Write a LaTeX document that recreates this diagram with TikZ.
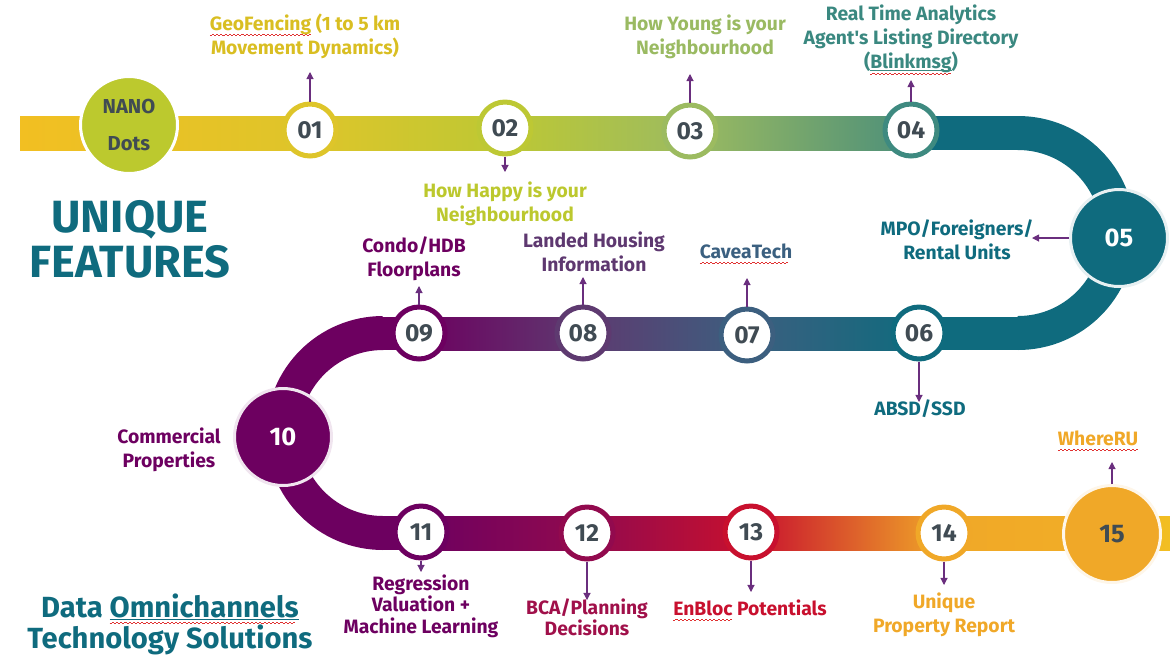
\documentclass[tikz,border=0pt]{standalone}
\usepackage{fontspec}
\setmainfont{Fira Sans}
\newfontfamily\rawfs{Fira Sans}
\usetikzlibrary{arrows.meta}
\definecolor{numgray}{HTML}{404B53}
\definecolor{tealc}{HTML}{0F6B7E}
\definecolor{purp}{HTML}{6D0060}
\definecolor{arrowc}{HTML}{6A2E7E}
\definecolor{wavec}{HTML}{E03030}
\definecolor{r01}{HTML}{DEC52A}
\definecolor{r02}{HTML}{BDC834}
\definecolor{r03}{HTML}{9CBB60}
\definecolor{r04}{HTML}{3E8A80}
\definecolor{r04b}{HTML}{4C8F7A}
\definecolor{r07}{HTML}{3C5F7F}
\definecolor{r08}{HTML}{5E3A70}
\definecolor{r12}{HTML}{920A4E}
\definecolor{r13}{HTML}{C8102E}
\definecolor{r14}{HTML}{F0A828}
\definecolor{gold}{HTML}{F2BF22}
\definecolor{orng}{HTML}{F2AE26}
\definecolor{nanoc}{HTML}{BCC92E}
\definecolor{geoc}{HTML}{D9BE22}
\definecolor{youngc}{HTML}{9ABA62}
\definecolor{realc}{HTML}{3A8880}
\definecolor{happyc}{HTML}{BCC82E}
\definecolor{landc}{HTML}{5E3870}
\definecolor{cavc}{HTML}{3B6080}
\definecolor{bcac}{HTML}{A0104A}
\definecolor{enbc}{HTML}{C8102E}
\definecolor{uniqc}{HTML}{F0A828}
\newsavebox\wvbox
\newcommand\wavefill{\leaders\hbox to 2.4pt{\rule[-3.1pt]{1.2pt}{0.45pt}\rule[-2.5pt]{1.2pt}{0.45pt}}\hfill}
\newcommand\wv[1]{\sbox\wvbox{#1}\rlap{\color{wavec}\hbox to \wd\wvbox{\wavefill}}\usebox\wvbox}
\newcommand\ulne[1]{\sbox\wvbox{#1}\rlap{\rule[-1.8pt]{\wd\wvbox}{0.6pt}}\rlap{\color{wavec}\hbox to \wd\wvbox{\raisebox{-0.8pt}{\hbox to \wd\wvbox{\wavefill}}}}\usebox\wvbox}
\begin{document}
\begin{tikzpicture}[x=0.02cm,y=-0.02cm,
  small/.style={circle,fill=white,draw=#1,line width=0.1cm,minimum size=1.04cm,inner sep=0pt,
    text=numgray,font=\bfseries\fontsize{14}{14}\selectfont},
  big/.style n args={3}{circle,fill=#1,draw=#2,line width=0.06cm,minimum size=1.94cm,inner sep=0pt,
    text=#3,font=\bfseries\fontsize{14.5}{14.5}\selectfont},
  lab/.style={text=#1,align=center,inner sep=0pt,font=\bfseries\fontsize{11}{13.6}\selectfont},
  labt/.style={text=#1,align=center,inner sep=0pt,font=\bfseries\fontsize{11}{12.2}\selectfont},
  title/.style={text=tealc,align=center,inner sep=0pt},
  conn/.style={draw=arrowc,line width=0.6pt,-{Triangle[length=4pt,width=4pt]}},
  band/.style={line width=0.68cm,draw=#1}]
\useasboundingbox (0,0) rectangle (1170,657);
% top band
\fill[left color=gold,right color=r01] (20,116) rectangle (311,150);
\fill[left color=r01,right color=r02] (310,116) rectangle (506,150);
\fill[left color=r02,right color=r03] (505,116) rectangle (691,150);
\fill[left color=r03,right color=r04b] (690,116) rectangle (912,150);
\fill[tealc] (911,116) rectangle (1019,150);
\draw[band=tealc] (1018,133) arc[start angle=-90,end angle=90,radius=100];
% middle band
\fill[tealc] (918,317) rectangle (1019,350);
\fill[left color=r07,right color=tealc] (746,317) rectangle (920,350);
\fill[left color=r08,right color=r07] (582,317) rectangle (748,350);
\fill[left color=purp,right color=r08] (418,317) rectangle (584,350);
\fill[purp] (382,317) rectangle (420,350);
\draw[band=purp] (383,333) arc[start angle=270,end angle=90,radius=100];
% bottom band
\fill[purp] (382,516) rectangle (422,550);
\fill[left color=purp,right color=r12] (421,516) rectangle (588,550);
\fill[left color=r12,right color=r13] (587,516) rectangle (752,550);
\fill[left color=r13,right color=r14] (751,516) rectangle (945,550);
\fill[left color=r14,right color=orng] (944,516) rectangle (1113,550);
\fill[left color=orng,right color=gold] (1112,516) rectangle (1170,550);
% circles
\node[big={nanoc}{white}{numgray},font=\bfseries\fontsize{11.5}{21.5}\selectfont,align=center] (nano) at (129,125) {NANO\\Dots};
\node[small=r01] (c01) at (310,130) {01};
\node[small=r02] (c02) at (505,128) {02};
\node[small=r03] (c03) at (690,131) {03};
\node[small=r04] (c04) at (911,130) {04};
\node[big={tealc}{tealc!10}{white}] (c05) at (1119,238) {05};
\node[small=tealc] (c06) at (919,333) {06};
\node[small=r07] (c07) at (747,335) {07};
\node[small=r08] (c08) at (583,333) {08};
\node[small=purp] (c09) at (419,333) {09};
\node[big={purp}{purp!10}{white}] (c10) at (283,437) {10};
\node[small=purp] (c11) at (421,532) {11};
\node[small=r12] (c12) at (587,533) {12};
\node[small=r13] (c13) at (751,532) {13};
\node[small=r14] (c14) at (944,533) {14};
\node[big={r14}{r14!10}{numgray}] (c15) at (1112,534) {15};
% labels
\node[lab=geoc] (l01) at (305,36) {\wv{GeoFencing} (1 to 5 km\\Movement Dynamics)};
\node[lab=happyc] (l02) at (505,204) {How Happy is your\\Neighbourhood};
\node[lab=youngc] (l03) at (705,37) {How Young is your\\Neighbourhood};
\node[lab=realc] (l04) at (911,40) {Real Time Analytics\\Agent{\rawfs\bfseries '}s Listing Directory\\(\ulne{Blinkmsg})};
\node[lab=tealc] (l05) at (957,240) {MPO/Foreigners/\\Rental Units};
\node[lab=tealc] (l06) at (920,409) {ABSD/SSD};
\node[lab=cavc] (l07) at (746,254) {\wv{CaveaTech}};
\node[lab=landc] (l08) at (594,252) {Landed Housing\\Information};
\node[lab=purp] (l09) at (414,259) {Condo/HDB\\Floorplans};
\node[lab=purp] (l10) at (169,450) {Commercial\\Properties};
\node[labt=purp] (l11) at (421,606) {Regression\\Valuation +\\Machine Learning};
\node[labt=bcac] (l12) at (587,617) {BCA/Planning\\Decisions};
\node[lab=enbc] (l13) at (750,610) {\wv{EnBloc} Potentials};
\node[lab=uniqc] (l14) at (944,615) {Unique\\Property Report};
\node[lab=uniqc] (l15) at (1098,441) {\wv{WhereRU}};
\node[title,font=\bfseries\fontsize{25.7}{25.5}\selectfont] (t1) at (130,239) {UNIQUE\\FEATURES};
\node[title,font=\bfseries\fontsize{16.6}{17.6}\selectfont] (t2) at (170,624) {Data \ulne{Omnichannels}\\Technology Solutions};
% connector ends
\coordinate (a01) at (310,72);
\coordinate (a02) at (505,172);
\coordinate (a03) at (690,74);
\coordinate (a04) at (911,80);
\coordinate (a05) at (1032,238);
\coordinate (a06) at (919,402);
\coordinate (a07) at (747,278);
\coordinate (a08) at (583,277);
\coordinate (a09) at (419,286);
\coordinate (a11) at (421,572);
\coordinate (a12) at (587,600);
\coordinate (a13) at (751,592);
\coordinate (a14) at (944,585);
\coordinate (a15) at (1112,462);
\draw[conn] (c01.north) -- (a01);
\draw[conn] (c02.south) -- (a02);
\draw[conn] (c03.north) -- (a03);
\draw[conn] (c04.north) -- (a04);
\draw[conn] (c05.west) -- (a05);
\draw[conn] (c06.south) -- (a06);
\draw[conn] (c07.north) -- (a07);
\draw[conn] (c08.north) -- (a08);
\draw[conn] (c09.north) -- (a09);
\draw[conn] (c11.south) -- (a11);
\draw[conn] (c12.south) -- (a12);
\draw[conn] (c13.south) -- (a13);
\draw[conn] (c14.south) -- (a14);
\draw[conn] (c15.north) -- (a15);
\end{tikzpicture}
\end{document}
